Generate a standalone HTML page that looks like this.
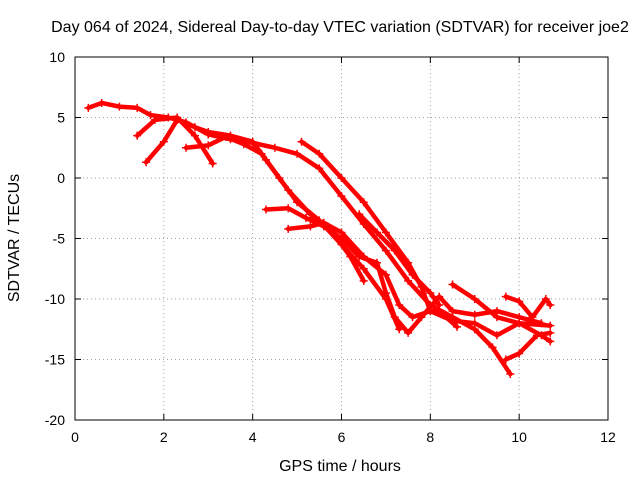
<!DOCTYPE html>
<html><head><meta charset="utf-8"><style>
body{margin:0;background:#fff}
svg{display:block;font-family:"Liberation Sans",sans-serif}
</style></head><body>
<svg id="c" width="640" height="480">
<text x="340" y="32" text-anchor="middle" font-size="16">Day 064 of 2024, Sidereal Day-to-day VTEC variation (SDTVAR) for receiver joe2</text>
<text x="340" y="471" text-anchor="middle" font-size="16">GPS time / hours</text>
<text transform="translate(19,238) rotate(-90)" text-anchor="middle" font-size="16">SDTVAR / TECUs</text>
<g id="grid"></g><g id="series"></g><g id="axes"></g>
</svg>
<script>
const xTicks=[0,2,4,6,8,10,12];
const yTicks=[-20,-15,-10,-5,0,5,10];
const track1=[[0.3,5.8],[0.6,6.2],[1,5.9],[1.4,5.8],[1.7,5.2],[2.1,5.0],[2.5,4.6],[3.0,3.6],[3.5,3.2],[4.0,2.9],[4.5,2.5],[5.0,2.0],[5.5,0.8],[6.0,-1.5],[6.5,-3.8],[7.0,-6.0],[7.5,-8.5],[8.0,-10.5],[8.5,-11.5],[9.0,-12.5],[9.4,-14],[9.8,-16.2]];
const track2=[[1.6,1.3],[2.0,3.0],[2.3,4.8],[2.7,4.2],[3.0,3.8],[3.5,3.5],[4.0,3.0],[4.3,1.5],[4.8,-1],[5.3,-3],[5.8,-4.5],[6.2,-6.5],[6.5,-8.5]];
const track3=[[1.4,3.5],[1.8,4.8],[2.3,5.0],[2.7,3.5],[3.1,1.2]];
const track4=[[2.5,2.5],[3.0,2.7],[3.4,3.4],[3.8,2.8],[4.2,2.0],[4.6,0],[5.0,-2.0],[5.5,-3.5],[6.0,-5.5],[6.5,-7.5],[7.0,-10],[7.3,-12.5]];
const track5=[[5.1,3.0],[5.5,2.0],[6.0,0],[6.5,-2],[7.0,-4.5],[7.5,-7],[7.8,-9],[8.0,-11],[8.2,-11],[8.6,-12.3]];
const track6=[[4.3,-2.6],[4.8,-2.5],[5.2,-3.3],[5.6,-4.0],[6.0,-5.0],[6.4,-6.5],[6.8,-7.0],[7.0,-9.5],[7.2,-11.5],[7.5,-12.8],[7.8,-11.5],[8.2,-9.8],[8.5,-11],[9,-11.3],[9.5,-11],[10,-11.5],[10.5,-12]];
const track7=[[4.8,-4.2],[5.3,-4.0],[5.6,-3.7],[6.0,-4.5],[6.5,-6.5],[7.0,-8.0],[7.3,-10.5],[7.6,-11.5],[8.0,-11],[8.5,-11.8],[9.0,-12],[9.5,-13],[10,-12],[10.5,-13],[10.7,-13.5]];
const track8=[[6.4,-3.0],[6.8,-4.5],[7.2,-6.0],[7.6,-8],[8,-9.5],[8.2,-10.5]];
const track9=[[8.5,-8.8],[9,-10],[9.5,-11.5],[10,-12],[10.7,-12.2]];
const track10=[[9.7,-9.8],[10,-10.2],[10.3,-11.5],[10.6,-10],[10.7,-10.5]];
const track11=[[9.7,-15],[10,-14.5],[10.4,-13],[10.7,-12.8]];
const tracks=[track1,track2,track3,track4,track5,track6,track7,track8,track9,track10,track11];

const L=75,R=608,T=57,B=420;
const sx=v=>L+(v-0)/12*(R-L);
const sy=v=>B-(v+20)/30*(B-T);
const NS="http://www.w3.org/2000/svg";
function mk(tag,attrs,parent){const e=document.createElementNS(NS,tag);for(const k in attrs)e.setAttribute(k,attrs[k]);parent.appendChild(e);return e;}
const grid=document.getElementById('grid'),axes=document.getElementById('axes'),ser=document.getElementById('series');
xTicks.forEach(t=>{
  const x=sx(t);
  if(t>0&&t<12){const g=mk('line',{x1:x,x2:x,y1:T,y2:B,stroke:'#a0a0a0','stroke-dasharray':'1,3'},grid);
  
  }
  mk('line',{x1:x,x2:x,y1:B,y2:B-6,stroke:'#000'},axes);
  mk('line',{x1:x,x2:x,y1:T,y2:T+6,stroke:'#000'},axes);
  const tx=mk('text',{x:x,y:B+22,'text-anchor':'middle','font-size':14},axes);
  tx.textContent=t;
  
  
});
yTicks.forEach(t=>{
  const y=sy(t);
  if(t>-20&&t<10){const g=mk('line',{x1:L,x2:R,y1:y,y2:y,stroke:'#a0a0a0','stroke-dasharray':'1,3'},grid);
  
  }
  mk('line',{x1:L,x2:L+6,y1:y,y2:y,stroke:'#000'},axes);
  mk('line',{x1:R,x2:R-6,y1:y,y2:y,stroke:'#000'},axes);
  const tx=mk('text',{x:L-10,y:y+5,'text-anchor':'end','font-size':14},axes);
  tx.textContent=t;
  
  
});
const border=mk('rect',{x:L,y:T,width:R-L,height:B-T,fill:'none',stroke:'#000'},axes);


tracks.forEach((tr,i)=>{
  const g=mk('g',{},ser);
  
  
  mk('polyline',{points:tr.map(p=>sx(p[0])+','+sy(p[1])).join(' '),fill:'none',stroke:'#ff0000','stroke-width':4.5,'stroke-linejoin':'round','stroke-linecap':'round'},g);
  tr.forEach(p=>{
    const x=sx(p[0]),y=sy(p[1]);
    const m=mk('path',{d:`M${x-4},${y}H${x+4}M${x},${y-4}V${y+4}`,stroke:'#ff0000','stroke-width':1.5},g);
    
    
  });
});
</script>
</body></html>
